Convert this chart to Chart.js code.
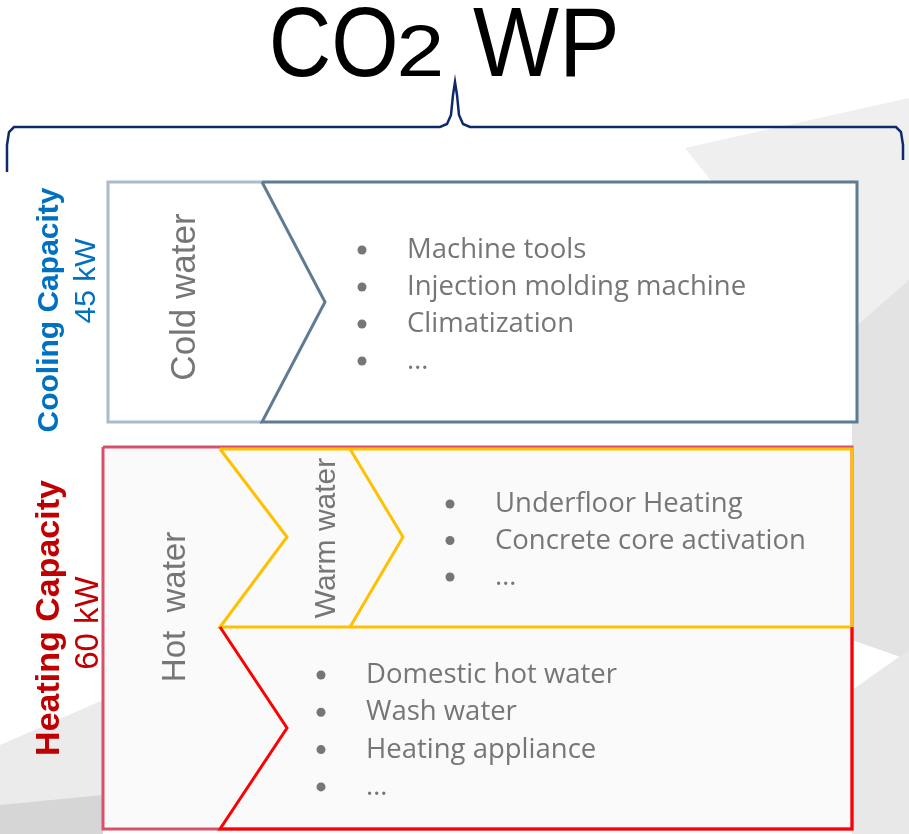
<!DOCTYPE html>
<html>
<head>
<meta charset="utf-8">
<script src="https://cdn.jsdelivr.net/npm/chart.js@4"></script>
<style>
  html, body { margin: 0; padding: 0; background: #ffffff; }
  canvas { display: block; }
</style>
</head>
<body>
<canvas id="chart" width="909" height="834"></canvas>
<script>
// ---- content ----
const titleParts = ['CO', '2', 'WP'];
const capacityLabels = ['Cooling Capacity', 'Heating Capacity'];
const capacityKW = [45, 60];
const circuitLabels = ['Cold water', 'Warm water', 'Hot  water'];
const coldUses = ['Machine tools', 'Injection molding machine', 'Climatization', '…'];
const warmUses = ['Underfloor Heating', 'Concrete core activation', '…'];
const hotUses = ['Domestic hot water', 'Wash water', 'Heating appliance', '…'];

// ---- layout (diagram space: 909 x 834, y down) ----
const GRAY_TEXT = '#767676';
const BLUE = '#0070c0';
const DARK_RED = '#c00000';

const pt = (x, y) => ({ x, y });

const backdrop = [
    { color: '#efefef', pts: [pt(685, 148), pt(909, 98), pt(909, 430), pt(830, 330)] },
    { color: '#e3e3e3', pts: [pt(852, 330), pt(909, 280), pt(909, 660), pt(852, 640)] },
    { color: '#e8e8e8', pts: [pt(852, 690), pt(909, 650), pt(909, 834), pt(852, 834)] },
    { color: '#ebebeb', pts: [pt(0, 745), pt(103, 700), pt(103, 834), pt(0, 834)] },
    { color: '#d6d6d6', pts: [pt(0, 805), pt(103, 795), pt(103, 834), pt(0, 834)] }
];

const bracket = [
    pt(7, 172), pt(7, 145), pt(9, 132), pt(14, 127), pt(440, 127), pt(447, 124),
    pt(451, 115), pt(453, 95), pt(455, 82), pt(457, 95), pt(459, 115), pt(463, 124),
    pt(470, 127), pt(896, 127), pt(901, 132), pt(903, 145), pt(903, 160)
];

const outlines = [
    // cooling: light left cell, dark chevron body
    { color: '#ffffff', fill: true, width: 0, pts: [pt(108, 182), pt(857, 182), pt(857, 422), pt(108, 422)] },
    { color: '#a9bccb', width: 3, pts: [pt(262, 182), pt(108, 182), pt(108, 422), pt(262, 422)] },
    { color: '#5f7b93', width: 3, pts: [pt(262, 182), pt(857, 182), pt(857, 422), pt(262, 422), pt(325, 302), pt(262, 182)] },
    // heating: pink frame, warm (yellow) band, hot (red) band
    { color: '#fafafa', fill: true, width: 0, pts: [pt(103, 447), pt(852, 447), pt(852, 829), pt(103, 829)] },
    { color: '#d9506a', width: 3, pts: [pt(103, 447), pt(852, 447), pt(852, 829), pt(103, 829), pt(103, 447)] },
    { color: '#ffc000', width: 3, pts: [pt(220, 449), pt(852, 449), pt(852, 627), pt(220, 627), pt(287, 537), pt(220, 449)] },
    { color: '#ffc000', width: 3, pts: [pt(350, 449), pt(403, 537), pt(350, 627)] },
    { color: '#ff0000', width: 3, pts: [pt(220, 627), pt(287, 728), pt(220, 829), pt(852, 829), pt(852, 627)] }
];

const bulletBlocks = [
    { items: coldUses, dotX: 362, textX: 407, firstBaseline: 258, gap: 37 },
    { items: warmUses, dotX: 450, textX: 495, firstBaseline: 512, gap: 36.5 },
    { items: hotUses, dotX: 321, textX: 366, firstBaseline: 683, gap: 37.3 }
];
const BULLET_FONT = '27.5px "Open Sans", "Noto Sans", sans-serif';

// rotated labels: baseline x, centre y
const verticalLabels = [
    { text: capacityLabels[0], x: 58, y: 310, font: 'bold 30px "Liberation Sans", Arial, sans-serif', color: BLUE },
    { text: capacityKW[0] + ' kW', x: 95, y: 281, font: '30px "Liberation Sans", Arial, sans-serif', color: BLUE },
    { text: capacityLabels[1], x: 59, y: 618, font: 'bold 34px "Liberation Sans", Arial, sans-serif', color: DARK_RED },
    { text: capacityKW[1] + ' kW', x: 98, y: 623, font: '33px "Liberation Sans", Arial, sans-serif', color: DARK_RED },
    { text: circuitLabels[0], x: 195, y: 297, font: '35px "Liberation Sans", Arial, sans-serif', color: GRAY_TEXT },
    { text: circuitLabels[1], x: 335, y: 538, font: '30px "Liberation Sans", Arial, sans-serif', color: GRAY_TEXT },
    { text: circuitLabels[2], x: 185, y: 607, font: '33px "Liberation Sans", Arial, sans-serif', color: GRAY_TEXT }
];

// title glyph boxes [left, right], shared baseline
const titleBoxes = [
    { font: '99px "Liberation Sans", Arial, sans-serif', left: 273, right: 395 },
    { font: '73px "Liberation Sans", Arial, sans-serif', left: 400, right: 440 },
    { font: '99px "Liberation Sans", Arial, sans-serif', left: 473, right: 615 }
];
const TITLE_BASELINE = 76;

// ---- datasets ----
const datasets = [];

backdrop.forEach(shape => datasets.push({
    data: shape.pts.concat([shape.pts[0]]),
    borderWidth: 0,
    borderColor: 'transparent',
    polyFill: shape.color
}));

datasets.push({ data: bracket, borderColor: '#0f2a6b', borderWidth: 2.5 });

outlines.forEach(o => datasets.push({
    data: o.pts,
    borderColor: o.fill ? 'transparent' : o.color,
    borderWidth: o.width,
    polyFill: o.fill ? o.color : null
}));

bulletBlocks.forEach(block => datasets.push({
    data: block.items.map((_, i) => pt(block.dotX, block.firstBaseline + i * block.gap - 8)),
    showLine: false,
    pointRadius: 4.5,
    pointBackgroundColor: GRAY_TEXT,
    pointBorderWidth: 0
}));

datasets.forEach((ds, i) => {
    ds.order = -i;
    if (ds.showLine === undefined) ds.showLine = true;
    if (ds.pointRadius === undefined) ds.pointRadius = 0;
    ds.borderJoinStyle = 'miter';
    ds.tension = 0;
    ds.clip = false;
});

// fill closed shapes using the parsed point positions
const polygonFill = {
    id: 'polygonFill',
    beforeDatasetDraw(chart, args) {
        const ds = chart.data.datasets[args.index];
        if (!ds.polyFill) return;
        const points = args.meta.data;
        const ctx = chart.ctx;
        ctx.save();
        ctx.beginPath();
        points.forEach((p, i) => i ? ctx.lineTo(p.x, p.y) : ctx.moveTo(p.x, p.y));
        ctx.closePath();
        ctx.fillStyle = ds.polyFill;
        ctx.fill();
        ctx.restore();
    }
};

const diagramText = {
    id: 'diagramText',
    afterDatasetsDraw(chart) {
        const ctx = chart.ctx;
        const sx = chart.scales.x, sy = chart.scales.y;
        const px = v => sx.getPixelForValue(v);
        const py = v => sy.getPixelForValue(v);

        // title, squeezed into measured glyph boxes
        ctx.save();
        ctx.fillStyle = '#000000';
        ctx.textAlign = 'left';
        ctx.textBaseline = 'alphabetic';
        titleParts.forEach((part, i) => {
            const box = titleBoxes[i];
            ctx.font = box.font;
            const m = ctx.measureText(part);
            const glyphW = m.actualBoundingBoxLeft + m.actualBoundingBoxRight;
            const s = (px(box.right) - px(box.left)) / glyphW;
            ctx.save();
            ctx.translate(px(box.left) + m.actualBoundingBoxLeft * s, py(TITLE_BASELINE));
            ctx.scale(s, 1);
            ctx.fillText(part, 0, 0);
            ctx.restore();
        });
        ctx.restore();

        // vertical labels
        verticalLabels.forEach(lbl => {
            ctx.save();
            ctx.translate(px(lbl.x), py(lbl.y));
            ctx.rotate(-Math.PI / 2);
            ctx.font = lbl.font;
            ctx.fillStyle = lbl.color;
            ctx.textAlign = 'center';
            ctx.textBaseline = 'alphabetic';
            ctx.fillText(lbl.text, 0, 0);
            ctx.restore();
        });

        // bullet texts
        ctx.save();
        ctx.font = BULLET_FONT;
        ctx.fillStyle = GRAY_TEXT;
        ctx.textAlign = 'left';
        ctx.textBaseline = 'alphabetic';
        bulletBlocks.forEach(block => {
            block.items.forEach((item, i) => {
                ctx.fillText(item, px(block.textX), py(block.firstBaseline + i * block.gap));
            });
        });
        ctx.restore();
    }
};

new Chart(document.getElementById('chart'), {
    type: 'scatter',
    data: { datasets },
    options: {
        responsive: false,
        animation: false,
        devicePixelRatio: 1,
        layout: { padding: 0, autoPadding: false },
        plugins: { legend: { display: false }, tooltip: { enabled: false } },
        scales: {
            x: { type: 'linear', min: 0, max: 909, display: false },
            y: { type: 'linear', min: 0, max: 834, reverse: true, display: false }
        },
        elements: { point: { radius: 0, hoverRadius: 0 } }
    },
    plugins: [polygonFill, diagramText]
});
</script>
</body>
</html>
